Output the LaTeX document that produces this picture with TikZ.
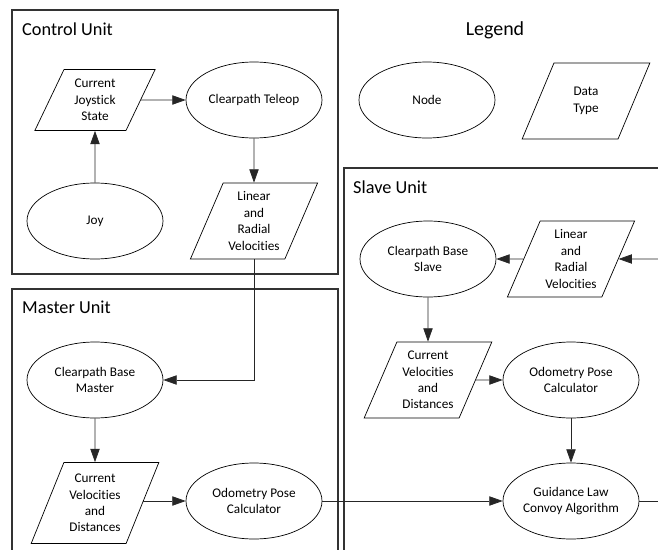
\documentclass[tikz,border=0pt]{standalone}
\usepackage{fontspec}
\setmainfont{Carlito}[Ligatures=NoCommon]
\usetikzlibrary{arrows.meta, shapes.geometric}
\newcommand{\boxtext}{\fontsize{11.3}{14}\selectfont}
\newcommand{\unittext}{\fontsize{15.6}{18}\selectfont}

\begin{document}
\begin{tikzpicture}[x=0.03cm, y=-0.03cm,
    proc/.style={draw, ellipse, line width=0.6pt, minimum width=4.08cm,
      minimum height=2.28cm, inner sep=0pt, align=center, font=\boxtext},
    dtype/.style={draw, trapezium, trapezium left angle=65, trapezium right angle=115,
      trapezium stretches=true, line width=0.6pt, minimum width=3.84cm,
      minimum height=2.28cm, inner sep=0pt, align=center, font=\boxtext},
    unit/.style={draw=black!80, line width=1.2pt},
    title/.style={anchor=west, inner sep=0pt, font=\unittext},
    flow/.style={-{Triangle[length=4mm, width=2.8mm]}, line width=0.6pt, draw=black!85}]
  \useasboundingbox (0,0) rectangle (658,550);
  \clip (0,0) rectangle (658,550);

  % unit boxes
  \draw[unit] (12,10) rectangle (338,274);
  \draw[unit] (12,289) rectangle (338,600);
  \draw[unit] (344,168) rectangle (700,600);
  \node[title] (ctrlT) at (22,29) {Control Unit};
  \node[title] (mastT) at (22,307) {Master Unit};
  \node[title] (slavT) at (353,187) {Slave Unit};

  % legend
  \node[inner sep=0pt, font=\fontsize{17}{19}\selectfont] (legT) at (495,30) {Legend};
  \node[proc] (lnode) at (427,100) {Node};
  \node[dtype] (ldata) at (586,101) {Data\\Type};

  % control unit
  \node[dtype, minimum width=3.63cm, minimum height=1.83cm] (js) at (95,100)
    {Current\\Joystick\\State};
  \node[proc] (teleop) at (254,100) {Clearpath Teleop};
  \node[proc] (joy) at (95,221) {Joy};
  \node[dtype] (cvel) at (254,221) {Linear\\and\\Radial\\Velocities};
  \draw[flow] (joy) -- (js);
  \draw[flow] (js) -- (teleop);
  \draw[flow] (teleop) -- (cvel);

  % master unit
  \node[proc] (mbase) at (95,380) {Clearpath Base\\Master};
  \node[dtype, minimum height=2.43cm] (mvel) at (95,503) {Current\\Velocities\\and\\Distances};
  \node[proc] (modom) at (254,501) {Odometry Pose\\Calculator};
  \draw[flow] (cvel.south) |- (mbase.east);
  \draw[flow] (mbase) -- (mvel);
  \draw[flow] (mvel.east |- modom) -- (modom);

  % slave unit
  \coordinate (sin) at (680,259);
  \coordinate (sout) at (680,501);
  \node[proc] (sbase) at (428,259) {Clearpath Base\\Slave};
  \node[dtype] (svel) at (571,259) {Linear\\and\\Radial\\Velocities};
  \node[dtype] (svel2) at (428,380) {Current\\Velocities\\and\\Distances};
  \node[proc] (sodom) at (571,380) {Odometry Pose\\Calculator};
  \node[proc] (guide) at (571,501) {Guidance Law\\Convoy Algorithm};
  \draw[flow] (sin) -- (svel);
  \draw[flow] (svel) -- (sbase);
  \draw[flow] (sbase) -- (svel2);
  \draw[flow] (svel2) -- (sodom);
  \draw[flow] (sodom) -- (guide);
  \draw[flow] (modom) -- (guide);
  \draw[line width=0.6pt, draw=black!85] (guide) -- (sout);
\end{tikzpicture}
\end{document}
